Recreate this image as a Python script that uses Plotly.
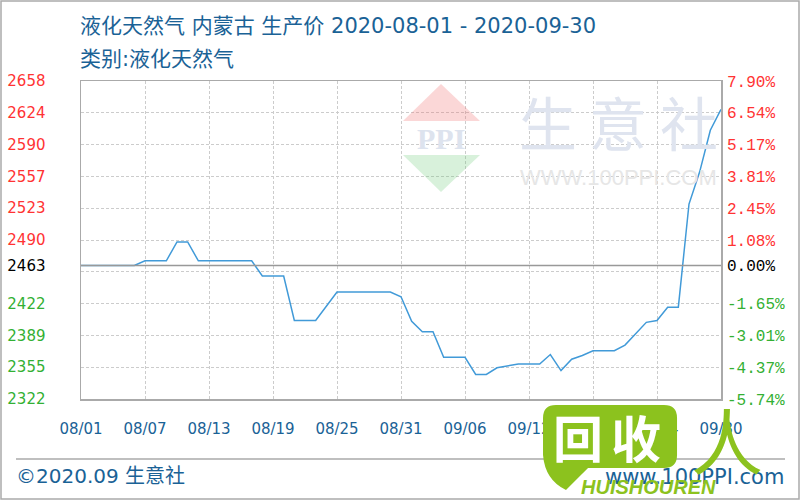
import pandas as pd
import plotly.graph_objects as go

# ---------------- data ----------------
dates = pd.date_range("2020-08-01", "2020-09-30", freq="D").strftime("%Y-%m-%d").tolist()
prices = [
    2463, 2463, 2463, 2463, 2463, 2463,          # 08/01-08/06
    2468, 2468, 2468, 2488, 2488,                # 08/07-08/11
    2468, 2468, 2468, 2468, 2468, 2468,          # 08/12-08/17
    2452, 2452, 2452,                            # 08/18-08/20
    2405, 2405, 2405, 2420,                      # 08/21-08/24
    2435, 2435, 2435, 2435, 2435, 2435,          # 08/25-08/30
    2430,                                        # 08/31
    2404, 2393, 2393, 2366, 2366, 2366,          # 09/01-09/06
    2348, 2348, 2355, 2357, 2359, 2359, 2359,    # 09/07-09/13
    2369, 2352, 2364, 2368, 2373, 2373, 2373,    # 09/14-09/20
    2379, 2391, 2403, 2405, 2419, 2419,          # 09/21-09/26
    2528, 2562, 2606, 2628,                      # 09/27-09/30
]
base_price = 2463
y_ticks = [2322, 2355.6, 2389.2, 2422.8, 2456.4, 2490, 2523.6, 2557.2, 2590.8, 2624.4, 2658]
left_labels = ["2322", "2355", "2389", "2422", "", "2490", "2523", "2557", "2590", "2624", "2658"]
right_labels = ["-5.74%", "-4.37%", "-3.01%", "-1.65%", "", "1.08%", "2.45%", "3.81%", "5.17%", "6.54%", "7.90%"]
base_left_label = "2463"
base_right_label = "0.00%"
x_tick_dates = ["2020-08-01", "2020-08-07", "2020-08-13", "2020-08-19", "2020-08-25", "2020-08-31",
                "2020-09-06", "2020-09-12", "2020-09-18", "2020-09-24", "2020-09-30"]
x_tick_labels = ["08/01", "08/07", "08/13", "08/19", "08/25", "08/31",
                 "09/06", "09/12", "09/18", "09/24", "09/30"]
title_line1 = "液化天然气 内蒙古 生产价 2020-08-01 - 2020-09-30"
title_line2 = "类别:液化天然气"

# ---------------- layout helpers ----------------
L, T, W, H = 81, 81, 640, 318
def px(x):
    return (x - L) / W
def py(y):
    return (T + H - y) / H
def path(points):
    s = ""
    for cmd, pts in points:
        if not pts:
            s += cmd + " "
        elif cmd == "Q":
            s += "Q " + " ".join(f"{px(a):.4f},{py(b):.4f}" for a, b in pts) + " "
        else:
            for a, b in pts:
                s += f"{cmd} {px(a):.4f},{py(b):.4f} "
    return s.strip()

RED, GREEN, BLACK = "#ff3333", "#33b033", "#000000"
BLUE_TXT = "#1a6296"
TXT_FONT = "DejaVu Sans, Noto Sans CJK SC"

def colored(lbls, vals):
    out = []
    for t, v in zip(lbls, vals):
        if t == "":
            out.append("")
        else:
            c = RED if v > base_price else GREEN
            out.append(f'<span style="color:{c}">{t}</span>')
    return out

lt_vals = y_ticks + [base_price]
lt_text = colored(left_labels, y_ticks) + [f'<span style="color:{BLACK}">{base_left_label}</span>']
rt_text = colored(right_labels, y_ticks) + [f'<span style="color:{BLACK}">{base_right_label}</span>']

yr = [y_ticks[0], y_ticks[-1]]

fig = go.Figure()
fig.add_trace(go.Scatter(x=dates, y=prices, mode="lines",
                         line=dict(color="#419ad8", width=1.5), hoverinfo="skip",
                         showlegend=False))
fig.add_trace(go.Scatter(x=dates, y=prices, mode="lines", yaxis="y2",
                         line=dict(color="rgba(0,0,0,0)", width=0), hoverinfo="skip",
                         showlegend=False))

shapes = []
# watermark: PPI logo triangles
shapes.append(dict(type="path", xref="paper", yref="paper", layer="above",
                   path=path([("M", [(441, 84)]), ("L", [(480, 121), (403, 121)]), ("Z", [])]),
                   fillcolor="rgba(240,110,110,0.28)", line=dict(width=0)))
shapes.append(dict(type="path", xref="paper", yref="paper", layer="above",
                   path=path([("M", [(403, 155)]), ("L", [(480, 155), (441, 192)]), ("Z", [])]),
                   fillcolor="rgba(100,200,110,0.25)", line=dict(width=0)))
# baseline at 2463
shapes.append(dict(type="line", xref="paper", yref="y", x0=0, x1=1, y0=base_price, y1=base_price,
                   line=dict(color="#999999", width=1.5), layer="above"))
# footer separator
shapes.append(dict(type="line", xref="paper", yref="paper", x0=px(16), x1=px(785), y0=py(459), y1=py(459),
                   line=dict(color="#aaaaaa", width=1.5)))
# outer border
shapes.append(dict(type="rect", xref="paper", yref="paper", x0=px(1), x1=px(799), y0=py(499), y1=py(1),
                   line=dict(color="#aaaaaa", width=1.5)))
# green overlay bubble
bubble = path([("M", [(556, 405)]), ("L", [(664, 405)]), ("Q", [(677, 405), (677, 418)]),
               ("L", [(677, 455)]), ("Q", [(677, 468), (664, 468)]), ("L", [(588, 468)]),
               ("L", [(566, 490)]), ("Q", [(545, 480), (543, 455)]), ("L", [(543, 418)]),
               ("Q", [(543, 405), (556, 405)]), ("Z", [])])
shapes.append(dict(type="path", xref="paper", yref="paper", layer="above", path=bubble,
                   fillcolor="#8cc21e", line=dict(width=0)))

ann = []
def text(x, y, s, size, color, xanchor="left", family=TXT_FONT, yanchor="middle"):
    ann.append(dict(x=px(x), y=py(y), xref="paper", yref="paper", text=s, showarrow=False,
                    xanchor=xanchor, yanchor=yanchor, font=dict(size=size, color=color, family=family)))

text(78, 26, title_line1, 21, BLUE_TXT)
text(78, 59, title_line2, 21, BLUE_TXT)
text(14, 476, "©2020.09 生意社", 20, BLUE_TXT)
text(786, 477, "www.100PPI.com", 21, BLUE_TXT, xanchor="right")
# watermark texts
text(441, 138, "<b>PPI</b>", 30, "#dde3ee", xanchor="center", family="Liberation Serif")
for cx, ch in zip([548, 618, 689], ["生", "意", "社"]):
    text(cx, 121, ch, 58, "#dfe4ef", xanchor="center", family="Noto Sans CJK SC")
text(618, 177, "WWW.100PPI.COM", 22, "#e6e6e6", xanchor="center", family="Liberation Sans")
# green overlay logo texts
text(578, 436, "<b>回</b>", 50, "#ffffff", xanchor="center", family="Noto Sans CJK SC")
text(636, 436, "<b>收</b>", 50, "#ffffff", xanchor="center", family="Noto Sans CJK SC")
text(727, 437, "人", 72, "#8cc21e", xanchor="center", family="Noto Sans CJK SC")
text(648, 487, "<b><i>HUISHOUREN</i></b>", 20, "#8cc21e", xanchor="center", family="Liberation Sans")

grid = dict(showgrid=True, gridcolor="#cccccc", gridwidth=1, griddash="3px,2px", zeroline=False)

fig.update_layout(
    width=800, height=500,
    margin=dict(l=L, r=800 - L - W, t=T, b=500 - T - H, autoexpand=False),
    paper_bgcolor="white", plot_bgcolor="rgba(0,0,0,0)",
    showlegend=False,
    xaxis=dict(type="date", range=[dates[0], dates[-1]], tickvals=x_tick_dates, ticktext=x_tick_labels,
               tickfont=dict(family="DejaVu Sans", size=15, color=BLUE_TXT), ticks="",
               showline=True, linecolor="#aaaaaa", linewidth=1.5, mirror=True, automargin=False,
               ticklabelstandoff=15, **grid),
    yaxis=dict(range=yr, tickvals=lt_vals, ticktext=lt_text, ticks="", automargin=False,
               tickfont=dict(family="DejaVu Sans", size=15, color=BLACK),
               showline=True, linecolor="#aaaaaa", linewidth=1.5, mirror=True,
               ticklabelstandoff=31, **grid),
    yaxis2=dict(range=yr, overlaying="y", side="right", tickvals=lt_vals, ticktext=rt_text, ticks="",
                tickfont=dict(family="Liberation Mono", size=16, color=BLACK), automargin=False,
                showgrid=False, zeroline=False, showline=False, ticklabelstandoff=5),
    shapes=shapes, annotations=ann,
)

fig.write_html("out.html", config={"displayModeBar": False, "staticPlot": True},
               post_script="document.body.style.margin='0';document.body.style.overflow='hidden';")
